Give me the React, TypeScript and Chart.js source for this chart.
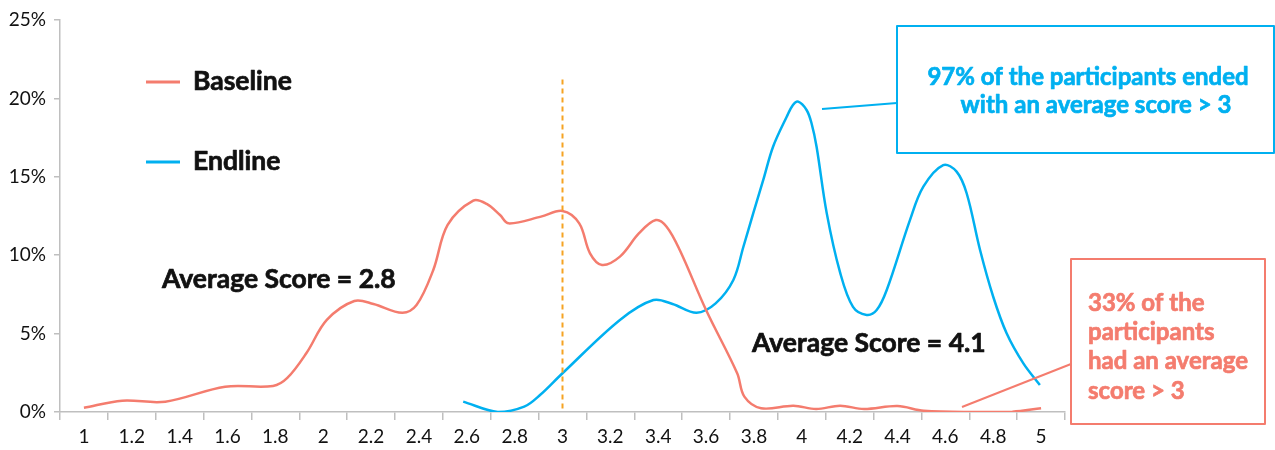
import React, { useEffect, useRef } from "react";
import { Chart, registerables } from "chart.js";

Chart.register(...registerables);

// ---- Data ----
const tickLabels = ["1", "1.2", "1.4", "1.6", "1.8", "2", "2.2", "2.4", "2.6", "2.8", "3", "3.2", "3.4", "3.6", "3.8", "4", "4.2", "4.4", "4.6", "4.8", "5"];
const yTickValues = [0, 5, 10, 15, 20, 25];

const seriesNames = ["Baseline", "Endline"];

const baselineX = [1.0, 1.16, 1.34, 1.59, 1.79, 1.85, 1.93, 2.015, 2.13, 2.21, 2.33, 2.39, 2.46, 2.52, 2.627, 2.683, 2.739, 2.775, 2.91, 3.0, 3.07, 3.115, 3.165, 3.24, 3.32, 3.39, 3.435, 3.49, 3.6, 3.73, 3.76, 3.83, 3.965, 4.06, 4.16, 4.26, 4.4, 4.51, 4.72, 4.88, 5.0];
const baselineY = [0.27, 0.72, 0.66, 1.61, 1.66, 2.17, 3.76, 5.87, 7.08, 6.89, 6.33, 6.82, 9.06, 11.93, 13.48, 13.27, 12.56, 12.03, 12.46, 12.82, 12.03, 10.12, 9.38, 9.91, 11.4, 12.24, 11.82, 10.33, 6.5, 2.47, 0.98, 0.24, 0.4, 0.19, 0.4, 0.19, 0.38, 0.08, 0.0, 0.02, 0.24];

const endlineX = [2.585, 2.73, 2.84, 2.906, 3.0, 3.24, 3.38, 3.46, 3.56, 3.64, 3.714, 3.756, 3.797, 3.839, 3.88, 3.937, 3.963, 3.985, 4.02, 4.041, 4.062, 4.104, 4.16, 4.214, 4.271, 4.313, 4.355, 4.452, 4.508, 4.591, 4.647, 4.689, 4.745, 4.8, 4.856, 4.926, 4.995];
const endlineY = [0.66, 0.0, 0.34, 1.08, 2.47, 5.87, 7.14, 6.89, 6.33, 6.93, 8.42, 10.54, 12.67, 14.8, 16.92, 18.83, 19.58, 19.79, 19.26, 18.4, 16.9, 12.7, 8.9, 6.7, 6.19, 6.5, 7.78, 12.24, 14.37, 15.75, 15.33, 13.95, 10.33, 7.35, 5.02, 3.1, 1.72];

const thresholdScore = 3;
const thresholdTop = 21.2;
const averageBaseline = "Average Score = 2.8";
const averageEndline = "Average Score = 4.1";
const endlineNote = ["97% of the participants ended", "with an average score > 3"];
const baselineNote = ["33% of the", "participants", "had an average", "score > 3"];

const COLORS = {
  baseline: "#F47C6E",
  endline: "#00B0F0",
  threshold: "#F5A323",
  axis: "#BFBFBF",
  text: "#111111",
};
const FONT = "Lato, 'Open Sans', sans-serif";

function heavyText(ctx: CanvasRenderingContext2D, text: string, x: number, y: number, color: string) {
  ctx.fillStyle = color;
  ctx.strokeStyle = color;
  ctx.lineWidth = 0.7;
  ctx.lineJoin = "round";
  ctx.fillText(text, x, y);
  ctx.strokeText(text, x, y);
}

const annotationPlugin = {
  id: "annotations",
  afterDatasetsDraw(chart: any) {
    const { ctx, scales } = chart;
    const x = scales.x;
    const y = scales.y;
    ctx.save();

    // threshold dashed line
    ctx.strokeStyle = COLORS.threshold;
    ctx.lineWidth = 2;
    ctx.setLineDash([5, 4]);
    const tx = x.getPixelForValue(thresholdScore);
    ctx.beginPath();
    ctx.moveTo(tx, y.getPixelForValue(thresholdTop));
    ctx.lineTo(tx, y.getPixelForValue(0));
    ctx.stroke();
    ctx.setLineDash([]);

    // legend
    const legendItems = [
      { name: seriesNames[0], color: COLORS.baseline, y: 81 },
      { name: seriesNames[1], color: COLORS.endline, y: 161 },
    ];
    ctx.font = `bold 26.5px ${FONT}`;
    ctx.textBaseline = "middle";
    ctx.textAlign = "left";
    legendItems.forEach((it) => {
      ctx.strokeStyle = it.color;
      ctx.lineWidth = 3;
      ctx.beginPath();
      ctx.moveTo(146, it.y + 1);
      ctx.lineTo(180, it.y + 1);
      ctx.stroke();
      heavyText(ctx, it.name, 193, it.y, COLORS.text);
    });

    // average texts
    heavyText(ctx, averageBaseline, 162, 279, COLORS.text);
    heavyText(ctx, averageEndline, 752, 343, COLORS.text);

    // endline box
    ctx.strokeStyle = COLORS.endline;
    ctx.lineWidth = 2;
    ctx.strokeRect(897, 26, 377, 127);
    ctx.beginPath();
    ctx.moveTo(822, 109);
    ctx.lineTo(897, 103);
    ctx.stroke();
    ctx.font = `bold 24px ${FONT}`;
    ctx.textAlign = "center";
    heavyText(ctx, endlineNote[0], 1088, 77, COLORS.endline);
    heavyText(ctx, endlineNote[1], 1096, 105, COLORS.endline);

    // baseline box
    ctx.strokeStyle = COLORS.baseline;
    ctx.lineWidth = 2;
    ctx.strokeRect(1071, 259, 194, 165);
    ctx.beginPath();
    ctx.moveTo(962, 407);
    ctx.lineTo(1071, 364);
    ctx.stroke();
    ctx.textAlign = "left";
    baselineNote.forEach((line, i) => {
      heavyText(ctx, line, 1088, 303 + i * 29.3, COLORS.baseline);
    });

    ctx.restore();
  },
};

export default function App() {
  const canvasRef = useRef<HTMLCanvasElement | null>(null);

  useEffect(() => {
    document.body.style.margin = "0";
    const canvas = canvasRef.current;
    if (!canvas) return;
    const chart = new Chart(canvas, {
      type: "line",
      data: {
        datasets: [
          {
            label: seriesNames[0],
            data: baselineX.map((v, i) => ({ x: v, y: baselineY[i] })),
            borderColor: COLORS.baseline,
            borderWidth: 2.5,
            pointRadius: 0,
            tension: 0.35,
            xAxisID: "x",
            yAxisID: "y",
          },
          {
            label: seriesNames[1],
            data: endlineX.map((v, i) => ({ x: v, y: endlineY[i] })),
            borderColor: COLORS.endline,
            borderWidth: 2.5,
            pointRadius: 0,
            tension: 0.35,
            xAxisID: "x",
            yAxisID: "y",
          },
        ],
      },
      options: {
        animation: false,
        responsive: false,
        maintainAspectRatio: false,
        layout: { padding: { top: 20, right: 210, left: 0, bottom: 0 } },
        plugins: { legend: { display: false }, tooltip: { enabled: false } },
        scales: {
          x: {
            type: "linear",
            display: false,
            min: 0.9,
            max: 5.1,
          },
          xc: {
            type: "category",
            labels: tickLabels,
            position: "bottom",
            offset: true,
            bounds: "ticks",
            grid: {
              offset: true,
              drawOnChartArea: false,
              drawTicks: true,
              tickLength: 8,
              color: COLORS.axis,
              lineWidth: 1.5,
            },
            border: { display: true, color: COLORS.axis, width: 1.5 },
            ticks: {
              autoSkip: false,
              maxRotation: 0,
              padding: 5,
              color: COLORS.text,
              font: { family: FONT, size: 19 },
            },
            afterFit: (s: any) => {
              s.height = 38;
            },
          },
          y: {
            type: "linear",
            min: 0,
            max: 25,
            afterBuildTicks: (s: any) => {
              s.ticks = yTickValues.map((v) => ({ value: v }));
            },
            grid: {
              drawOnChartArea: false,
              drawTicks: true,
              tickLength: 6,
              color: COLORS.axis,
              lineWidth: 1.5,
            },
            border: { display: true, color: COLORS.axis, width: 1.5 },
            ticks: {
              padding: 8,
              color: COLORS.text,
              font: { family: FONT, size: 19 },
              callback: (v: any) => `${v}%`,
            },
            afterFit: (s: any) => {
              s.width = 60;
            },
          },
        },
      },
      plugins: [annotationPlugin],
    });
    return () => chart.destroy();
  }, []);

  return (
    <div style={{ width: 1275, height: 450, position: "relative" }}>
      <canvas ref={canvasRef} width={1275} height={450} style={{ display: "block", width: 1275, height: 450 }} />
    </div>
  );
}
